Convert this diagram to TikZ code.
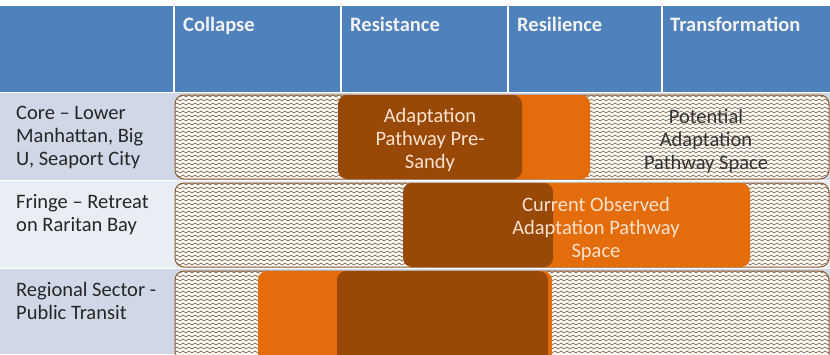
\documentclass[tikz,border=0pt]{standalone}
\usepackage{fontspec}
\setmainfont{Carlito}
\usepackage{tikz}
\usetikzlibrary{patterns}

\definecolor{hdrblue}{HTML}{4F81BD}
\definecolor{rowdark}{HTML}{D0D8E8}
\definecolor{rowlight}{HTML}{E9EDF4}
\definecolor{pathorange}{HTML}{E46C0A}
\definecolor{pathbrown}{HTML}{984807}
\definecolor{hatch}{HTML}{8C6A4C}
\definecolor{barline}{HTML}{8E5A2C}
\definecolor{peach}{HTML}{FBE2CF}

% zigzag fill of the open pathway space
\pgfdeclarepatternformonly{wavy}{\pgfqpoint{-1pt}{-1pt}}{\pgfqpoint{7pt}{5pt}}{\pgfqpoint{6pt}{4pt}}{%
  \pgfsetlinewidth{0.7pt}
  \pgfpathmoveto{\pgfqpoint{0pt}{1pt}}
  \pgfpathlineto{\pgfqpoint{3pt}{3pt}}
  \pgfpathlineto{\pgfqpoint{6pt}{1pt}}
  \pgfusepathqstroke}

\begin{document}
\begin{tikzpicture}[x=1pt, y=-1pt,
    cellfont/.style={font=\fontsize{20.5}{23}\selectfont},
    hdr/.style={font=\fontsize{20.5}{23}\selectfont\bfseries, text=white!95!black, anchor=base west, inner sep=0pt},
    rowlbl/.style={cellfont, text=black!85, anchor=west, align=left, inner sep=0pt},
    space/.style={rounded corners=9pt, draw=barline, line width=1pt, fill=white,
        postaction={pattern=wavy, pattern color=hatch}},
    current/.style={rounded corners=9pt, fill=pathorange},
    presandy/.style={rounded corners=9pt, fill=pathbrown}]
    \useasboundingbox (0,0) rectangle (830,354);
    \clip (0,0) rectangle (830,354);
    \fill[white] (0,0) rectangle (830,354);

    % header row
    \fill[hdrblue] (0,6) rectangle (830,92);
    \fill[rowdark] (0,93) rectangle (830,180);
    \fill[rowlight] (0,181) rectangle (830,268);
    \fill[rowdark] (0,269) rectangle (830,354);
    \foreach \x in {174,341,508,662}
        \draw[white, line width=1.2pt] (\x,6) -- (\x,92);

    \node[hdr] (collapse) at (183,31) {Collapse};
    \node[hdr] (resistance) at (350,31) {Resistance};
    \node[hdr] (resilience) at (517,31) {Resilience};
    \node[hdr] (transform) at (670,31) {Transformation};

    % row labels
    \node[rowlbl] (core) at (16,137) {Core -- Lower\\Manhattan, Big\\U, Seaport City};
    \node[rowlbl] (fringe) at (16,215) {Fringe -- Retreat\\on Raritan Bay};
    \node[rowlbl] (regional) at (16,301) {Regional Sector -\\Public Transit};

    % Core row
    \draw[space] (175,95) rectangle (829,179);
    \fill[current] (490,95) rectangle (590,179);
    \fill[presandy] (338,95) rectangle (522,179);
    \node[cellfont, text=peach, align=center] (presandytxt) at (430,140) {Adaptation\\Pathway Pre-\\Sandy};
    \node[cellfont, text=black!80, align=center] (potentialtxt) at (706,141) {Potential\\Adaptation\\Pathway Space};

    % Fringe row
    \draw[space] (175,183) rectangle (829,267);
    \fill[current] (420,183) rectangle (750,267);
    \fill[presandy] (403,183) rectangle (553,267);
    \node[cellfont, text=peach, align=center] (currenttxt) at (596,229) {Current Observed\\Adaptation Pathway\\Space};

    % Regional row
    \draw[space] (175,271) rectangle (829,370);
    \fill[current] (258,271) rectangle (552,370);
    \fill[presandy] (337,271) rectangle (548,370);
\end{tikzpicture}
\end{document}
